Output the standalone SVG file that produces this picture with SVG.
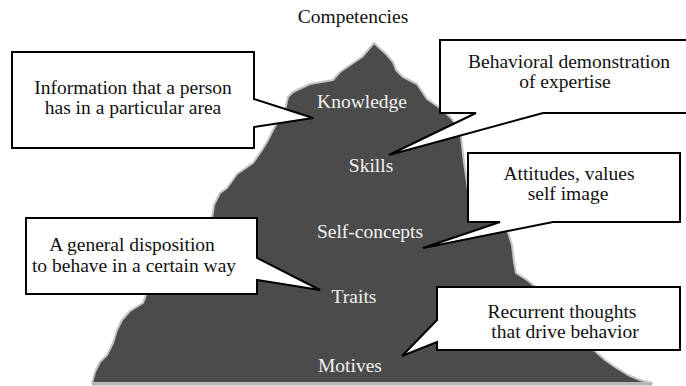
<svg xmlns="http://www.w3.org/2000/svg" width="686" height="386" viewBox="0 0 686 386">
  <style>
    text { font-family: "Liberation Serif", "Times New Roman", serif; font-size: 19.5px; text-anchor: middle; }
    .dark { fill: #111; }
    .light { fill: #f2f2f2; }
    .callout { fill: #fff; stroke: #000; stroke-width: 2; stroke-linejoin: miter; }
  </style>

  <rect width="686" height="386" fill="#fff"/>

  <!-- iceberg / mountain body -->
  <g id="mountain">
    <path fill="#4b4b4b" stroke="#c4c4c4" stroke-width="2" stroke-linejoin="round"
      d="M92,383 L95,372 L100,362 L107,355 L113,343 L117,330 L122,320 L130,311 L143,303 L146,295
         L180,255 L212,218 L214,205 L220,193 L227,188 L237,174 L253,163 L262,150 L267,142 L272,132
         L277,123 L285,110 L288,97 L293,92 L310,84 L333,80 L340,72 L362,57 L374,43
         L387,55 L393,62 L396,70 L403,77 L417,84 L427,99 L440,108 L450,117 L458,127 L461,136
         L463,155 L468,190 L480,212 L500,223 L508,232 L512,245 L514,262 L516,273 L527,280 L537,288
         L570,330 L596,352 L605,360 L615,367 L628,375 L640,380 L652,383 Z"/>
    <line x1="92" y1="384" x2="652" y2="384" stroke="#b4b4b4" stroke-width="3"/>
  </g>

  <text id="title" class="dark" x="353" y="23">Competencies</text>

  <!-- level labels on the mountain -->
  <g id="levels" class="light">
    <text x="362" y="108">Knowledge</text>
    <text x="371" y="172">Skills</text>
    <text x="370" y="238">Self-concepts</text>
    <text x="354" y="303">Traits</text>
    <text x="350" y="372">Motives</text>
  </g>

  <!-- callouts: box outline with its pointer -->
  <g id="connectors">
    <path class="callout" d="M12,52 H254 V99 L313,118 L254,127 V148 H12 Z"/>
    <path class="callout" d="M440,40 H690 V113 H543 L389,155 L476,113 H440 Z"/>
    <path class="callout" d="M468,153 H680 V222 H553 L423,248 L500,222 H468 Z"/>
    <path class="callout" d="M26,218 H257 V258 L320,290 L257,280 V294 H26 Z"/>
    <path class="callout" d="M437,287 H680 V350 H437 V342 L402,356 L437,320 Z"/>
  </g>

  <g id="note-knowledge" class="dark">
    <text x="133" y="94">Information that a person</text>
    <text x="133" y="114">has in a particular area</text>
  </g>
  <g id="note-skills" class="dark">
    <text x="569" y="68">Behavioral demonstration</text>
    <text x="565" y="88">of expertise</text>
  </g>
  <g id="note-selfconcepts" class="dark">
    <text x="569" y="180">Attitudes, values</text>
    <text x="568" y="200">self image</text>
  </g>
  <g id="note-traits" class="dark">
    <text x="132" y="251">A general disposition</text>
    <text x="134" y="272">to behave in a certain way</text>
  </g>
  <g id="note-motives" class="dark">
    <text x="562" y="318">Recurrent thoughts</text>
    <text x="565" y="338">that drive behavior</text>
  </g>
</svg>
